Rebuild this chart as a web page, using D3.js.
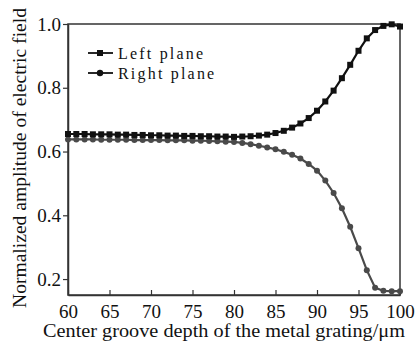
<!DOCTYPE html>
<html><head><meta charset="utf-8">
<script src="https://cdn.jsdelivr.net/npm/d3@7"></script>
</head>
<body style="margin:0">
<svg id="chart" width="418" height="342" style="display:block;background:#fff"></svg>
<script>
const depth = d3.range(60, 101, 1);
const leftPlane = [0.655,0.655,0.655,0.654,0.654,0.654,0.653,0.653,0.652,0.652,
                   0.651,0.651,0.650,0.650,0.649,0.649,0.648,0.648,0.647,0.647,
                   0.646,0.647,0.648,0.650,0.653,0.658,0.665,0.675,0.688,0.705,
                   0.728,0.757,0.791,0.830,0.872,0.916,0.955,0.981,0.994,0.999,0.992];
const rightPlane = [0.638,0.638,0.638,0.638,0.637,0.637,0.637,0.637,0.636,0.636,
                    0.636,0.636,0.635,0.635,0.635,0.634,0.634,0.633,0.632,0.631,
                    0.630,0.627,0.623,0.618,0.613,0.607,0.599,0.590,0.578,0.561,
                    0.540,0.509,0.470,0.422,0.364,0.297,0.228,0.173,0.163,0.162,0.162];
const xTicks = [60,65,70,75,80,85,90,95,100];
const yTicks = [0.2,0.4,0.6,0.8,1.0];
const seriesNames = ["Left plane","Right plane"];
const xTitle = "Center groove depth of the metal grating/\u03bcm";
const yTitle = "Normalized amplitude of electric field";

const SERIF = "Liberation Serif";
const FONT_A = `"${SERIF}", "Times New Roman", serif`;
const svg = d3.select("#chart");
const m = {l:68, r:400, t:24, b:295};
const x = d3.scaleLinear().domain([60,100]).range([m.l, m.r]);
const y = d3.scaleLinear().domain([0.15,1.0]).range([m.b, m.t]);

svg.append("rect").attr("x", m.l).attr("y", m.t).attr("width", m.r-m.l).attr("height", m.b-m.t)
  .attr("fill","none").attr("stroke","#333").attr("stroke-width",1.5);

const xa = svg.append("g").attr("transform",`translate(0,${m.b})`)
  .call(d3.axisBottom(x).tickValues(xTicks).tickFormat(d3.format("d")).tickSizeInner(-5).tickSizeOuter(0).tickPadding(10));
xa.attr("font-family", FONT_A);
xa.select(".domain").attr("stroke","#333").attr("stroke-width",1.5);
xa.selectAll(".tick line").attr("stroke","#333").attr("stroke-width",1.2);
xa.selectAll(".tick text").attr("font-size",19).style("font-family",FONT_A).attr("fill","#111");

const ya = svg.append("g").attr("transform",`translate(${m.l},0)`)
  .call(d3.axisLeft(y).tickValues(yTicks).tickFormat(d3.format(".1f")).tickSizeInner(5).tickSizeOuter(0).tickPadding(2));
ya.attr("font-family", FONT_A);
ya.select(".domain").attr("stroke","#333").attr("stroke-width",1.5);
ya.selectAll(".tick line").attr("stroke","#333").attr("stroke-width",1.2);
ya.selectAll(".tick text").attr("font-size",19).style("font-family",FONT_A).attr("fill","#111");

svg.append("text").attr("x",224).attr("y",337).attr("text-anchor","middle").style("font-family",FONT_A).attr("fill","#111")
  .attr("font-size",18).attr("textLength",362).attr("lengthAdjust","spacingAndGlyphs").text(xTitle);
svg.append("text").attr("transform","translate(26,158) rotate(-90)").attr("text-anchor","middle").style("font-family",FONT_A).attr("fill","#111")
  .attr("font-size",18).attr("textLength",300).attr("lengthAdjust","spacingAndGlyphs").text(yTitle);

const line = d3.line().x((d,i)=>x(depth[i])).y(d=>y(d));
const colL = "#111", colR = "#4a4a4a";

svg.append("path").datum(rightPlane).attr("d",line).attr("fill","none").attr("stroke",colR).attr("stroke-width",2.2);
svg.append("g").selectAll("circle").data(rightPlane).join("circle")
  .attr("cx",(d,i)=>x(depth[i])).attr("cy",d=>y(d)).attr("r",3).attr("fill",colR);

svg.append("path").datum(leftPlane).attr("d",line).attr("fill","none").attr("stroke",colL).attr("stroke-width",2.2);
svg.append("g").selectAll("rect").data(leftPlane).join("rect")
  .attr("x",(d,i)=>x(depth[i])-3).attr("y",d=>y(d)-3).attr("width",6).attr("height",6).attr("fill",colL);

const lg = svg.append("g");
[0,1].forEach(k=>{
  const cy = 53 + k*20;
  lg.append("line").attr("x1",88).attr("x2",113).attr("y1",cy).attr("y2",cy).attr("stroke",colL).attr("stroke-width",1.8);
  if(k===0) lg.append("rect").attr("x",97).attr("y",cy-3).attr("width",6).attr("height",6).attr("fill",colL);
  else lg.append("circle").attr("cx",100).attr("cy",cy).attr("r",3.2).attr("fill",colL);
  lg.append("text").attr("x",118).attr("y",cy+5.5).attr("font-size",16).style("letter-spacing","2.2px").style("font-family",FONT_A).attr("fill","#111").text(seriesNames[k]);
});
</script>
</body></html>
